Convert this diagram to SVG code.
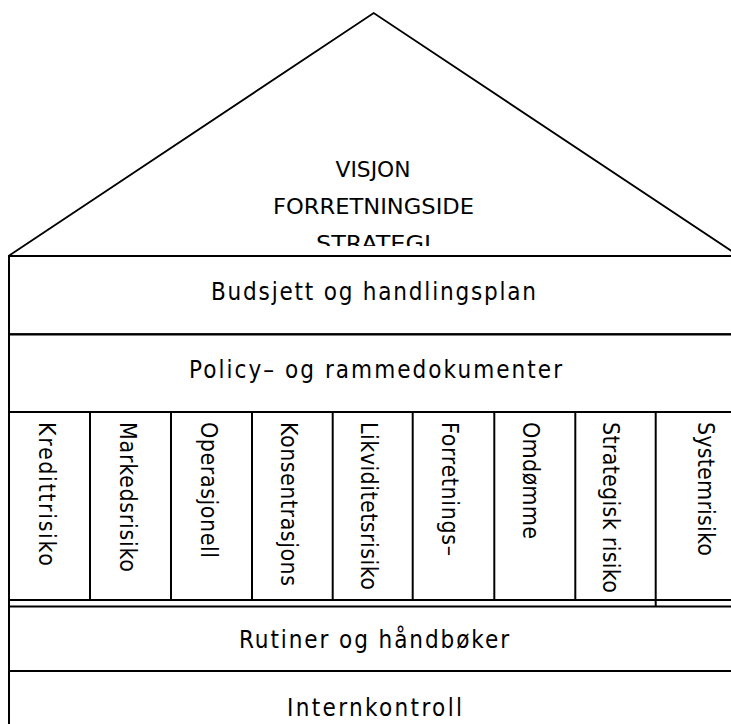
<svg xmlns="http://www.w3.org/2000/svg" width="731" height="724" viewBox="0 0 731 724">
  <style>
    .edge { fill: none; stroke: #000; stroke-width: 2; }
    .roof { fill: none; stroke: #000; stroke-width: 1.8; stroke-linejoin: miter; }
    .lbl, .roof-lbl, .col-lbl { font-family: "DejaVu Sans Condensed", "DejaVu Sans", "Liberation Sans", sans-serif; font-stretch: condensed; fill: #000; }
    .lbl { font-size: 24px; text-anchor: middle; }
    .roof-lbl { font-size: 21px; text-anchor: middle; }
    .col-lbl { font-size: 23px; }
  </style>
  <defs>
    <clipPath id="roofTextClip">
      <rect x="200" y="140" width="350" height="106"/>
    </clipPath>
  </defs>

  <rect width="731" height="724" fill="#fff"/>

  <!-- roof with vision / business idea / strategy -->
  <g id="roof">
    <polyline class="roof" points="8.5,256 373.7,13 739,256"/>
    <g clip-path="url(#roofTextClip)">
      <text class="roof-lbl" x="373" y="177" textLength="75" lengthAdjust="spacingAndGlyphs">VISJON</text>
      <text class="roof-lbl" x="373.5" y="214" textLength="201" lengthAdjust="spacingAndGlyphs">FORRETNINGSIDE</text>
      <text class="roof-lbl" x="373.5" y="251" textLength="115" lengthAdjust="spacingAndGlyphs">STRATEGI</text>
    </g>
  </g>

  <!-- outer wall on the left -->
  <g id="walls">
    <line class="edge" x1="9" y1="256" x2="9" y2="724"/>
  </g>

  <g id="budget">
    <rect class="edge" x="9" y="256" width="740" height="78.3"/>
    <text class="lbl" x="373.5" y="300" textLength="325" lengthAdjust="spacing">Budsjett og handlingsplan</text>
  </g>

  <g id="policy">
    <rect class="edge" x="9" y="334.3" width="740" height="77.7"/>
    <text class="lbl" x="375.5" y="378" textLength="373" lengthAdjust="spacing">Policy– og rammedokumenter</text>
  </g>

  <!-- risk pillars -->
  <g id="pillars">
    <rect class="edge" x="9" y="412" width="740" height="188"/>
    <line class="edge" x1="90" y1="412" x2="90" y2="600"/>
    <line class="edge" x1="171" y1="412" x2="171" y2="600"/>
    <line class="edge" x1="252" y1="412" x2="252" y2="600"/>
    <line class="edge" x1="332.7" y1="412" x2="332.7" y2="600"/>
    <line class="edge" x1="412.7" y1="412" x2="412.7" y2="600"/>
    <line class="edge" x1="494.3" y1="412" x2="494.3" y2="600"/>
    <line class="edge" x1="575.3" y1="412" x2="575.3" y2="600"/>
    <line class="edge" x1="655.7" y1="412" x2="655.7" y2="607"/>

    <g id="pillar-kreditt"><text class="col-lbl" transform="translate(38.5,422) rotate(90)" textLength="144" lengthAdjust="spacing">Kredittrisiko</text></g>
    <g id="pillar-marked"><text class="col-lbl" transform="translate(119.5,422) rotate(90)" textLength="150" lengthAdjust="spacing">Markedsrisiko</text></g>
    <g id="pillar-operasjonell"><text class="col-lbl" transform="translate(200.5,422) rotate(90)" textLength="136" lengthAdjust="spacing">Operasjonell</text></g>
    <g id="pillar-konsentrasjon"><text class="col-lbl" transform="translate(280.5,422) rotate(90)" textLength="164" lengthAdjust="spacing">Konsentrasjons</text></g>
    <g id="pillar-likviditet"><text class="col-lbl" transform="translate(360.5,422) rotate(90)" textLength="168" lengthAdjust="spacing">Likviditetsrisiko</text></g>
    <g id="pillar-forretning"><text class="col-lbl" transform="translate(441.5,422) rotate(90)" textLength="134" lengthAdjust="spacing">Forretnings–</text></g>
    <g id="pillar-omdomme"><text class="col-lbl" transform="translate(522.5,422) rotate(90)" textLength="117" lengthAdjust="spacing">Omdømme</text></g>
    <g id="pillar-strategisk"><text class="col-lbl" transform="translate(602.5,422) rotate(90)" textLength="171" lengthAdjust="spacing">Strategisk risiko</text></g>
    <g id="pillar-system"><text class="col-lbl" transform="translate(697.5,422) rotate(90)" textLength="134" lengthAdjust="spacing">Systemrisiko</text></g>
  </g>

  <g id="routines">
    <rect class="edge" x="9" y="606.5" width="740" height="64.5"/>
    <text class="lbl" x="374" y="648" textLength="270" lengthAdjust="spacing">Rutiner og håndbøker</text>
  </g>

  <g id="internal-control">
    <rect class="edge" x="9" y="671" width="740" height="80"/>
    <text class="lbl" x="374.5" y="716" textLength="175" lengthAdjust="spacing">Internkontroll</text>
  </g>
</svg>
